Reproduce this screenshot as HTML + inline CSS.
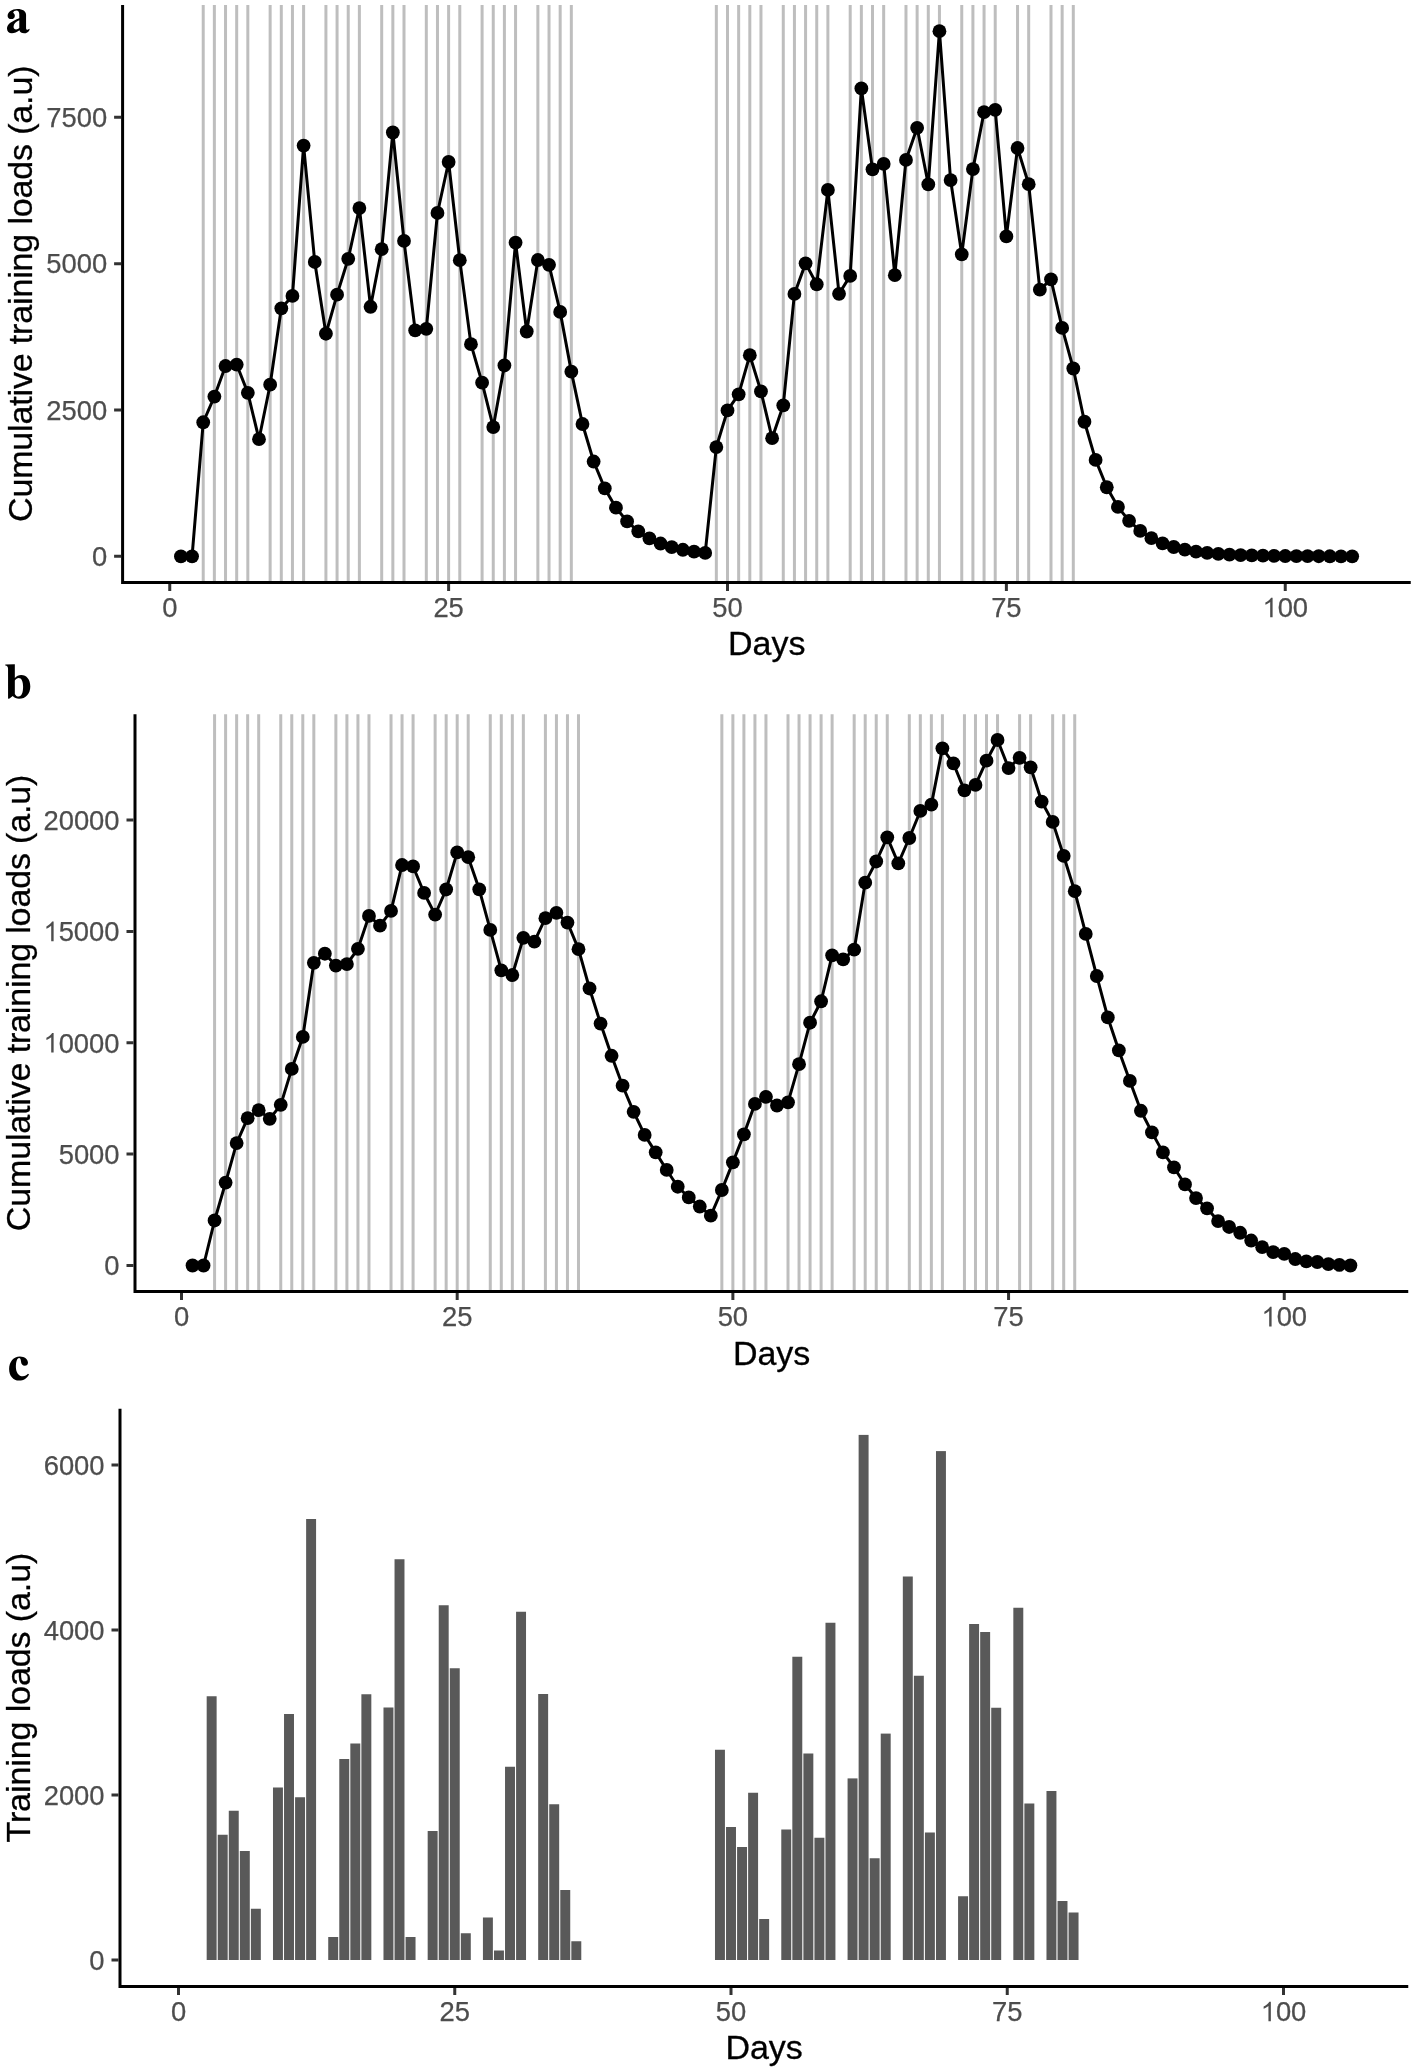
<!DOCTYPE html>
<html><head><meta charset="utf-8"><title>Training loads</title>
<style>html,body{margin:0;padding:0;background:#fff}svg{display:block;will-change:transform}.ss{font-family:"Liberation Sans",sans-serif}.sf{font-family:"Liberation Serif",serif}</style>
</head><body>
<svg width="1416" height="2070" viewBox="0 0 1416 2070">
<rect width="1416" height="2070" fill="#fff"/>
<g id="panel-a">
<path d="M203.22 5V582.5M214.37 5V582.5M225.53 5V582.5M236.68 5V582.5M247.83 5V582.5M270.14 5V582.5M281.30 5V582.5M292.45 5V582.5M303.61 5V582.5M325.92 5V582.5M337.07 5V582.5M348.23 5V582.5M359.38 5V582.5M381.69 5V582.5M392.85 5V582.5M404.00 5V582.5M426.31 5V582.5M437.47 5V582.5M448.62 5V582.5M459.78 5V582.5M482.09 5V582.5M493.25 5V582.5M504.40 5V582.5M515.56 5V582.5M537.87 5V582.5M549.02 5V582.5M560.17 5V582.5M571.33 5V582.5M716.34 5V582.5M727.50 5V582.5M738.65 5V582.5M749.81 5V582.5M760.96 5V582.5M783.27 5V582.5M794.43 5V582.5M805.58 5V582.5M816.74 5V582.5M827.89 5V582.5M850.20 5V582.5M861.36 5V582.5M872.51 5V582.5M883.67 5V582.5M905.98 5V582.5M917.13 5V582.5M928.29 5V582.5M939.44 5V582.5M961.75 5V582.5M972.91 5V582.5M984.06 5V582.5M995.22 5V582.5M1017.53 5V582.5M1028.68 5V582.5M1050.99 5V582.5M1062.15 5V582.5M1073.30 5V582.5" stroke="#bebebe" stroke-width="3.0" fill="none"/>
<polyline points="180.91,556.35 192.06,556.35 203.22,422.27 214.37,396.60 225.53,366.01 236.68,364.55 247.83,392.87 258.99,439.21 270.14,384.72 281.30,308.31 292.45,295.89 303.61,145.53 314.76,261.98 325.92,333.73 337.07,294.66 348.23,258.78 359.38,208.03 370.54,306.77 381.69,249.15 392.85,132.50 404.00,240.96 415.16,330.36 426.31,328.84 437.47,212.99 448.62,162.00 459.78,260.19 470.94,344.14 482.09,382.69 493.25,427.09 504.40,365.49 515.56,242.55 526.71,331.50 537.87,260.01 549.02,264.84 560.17,311.88 571.33,371.65 582.48,424.01 593.64,461.52 604.79,488.40 615.95,507.66 627.11,521.46 638.26,531.35 649.41,538.44 660.57,543.52 671.72,547.15 682.88,549.76 694.03,551.63 705.19,552.97 716.34,447.04 727.50,410.41 738.65,394.34 749.81,355.24 760.96,391.40 772.12,438.16 783.27,405.32 794.43,293.97 805.58,263.37 816.74,284.27 827.89,189.95 839.05,293.81 850.20,275.91 861.36,88.46 872.51,169.37 883.67,163.97 894.82,275.20 905.98,159.93 917.13,127.80 928.29,184.46 939.44,31.17 950.60,180.04 961.75,254.31 972.91,169.11 984.06,112.14 995.22,109.82 1006.38,236.40 1017.53,148.02 1028.68,184.21 1039.84,289.70 1050.99,279.37 1062.15,327.89 1073.30,368.50 1084.46,421.75 1095.61,459.91 1106.77,487.25 1117.92,506.83 1129.08,520.87 1140.23,530.93 1151.39,538.13 1162.55,543.30 1173.70,547.00 1184.86,549.65 1196.01,551.55 1207.16,552.91 1218.32,553.88 1229.47,554.58 1240.63,555.08 1251.78,555.44 1262.94,555.70 1274.10,555.88 1285.25,556.02 1296.40,556.11 1307.56,556.18 1318.71,556.23 1329.87,556.26 1341.02,556.29 1352.18,556.30" fill="none" stroke="#000" stroke-width="3.0" stroke-linejoin="round"/>
<g fill="#000"><circle cx="180.91" cy="556.35" r="6.9"/><circle cx="192.06" cy="556.35" r="6.9"/><circle cx="203.22" cy="422.27" r="6.9"/><circle cx="214.37" cy="396.60" r="6.9"/><circle cx="225.53" cy="366.01" r="6.9"/><circle cx="236.68" cy="364.55" r="6.9"/><circle cx="247.83" cy="392.87" r="6.9"/><circle cx="258.99" cy="439.21" r="6.9"/><circle cx="270.14" cy="384.72" r="6.9"/><circle cx="281.30" cy="308.31" r="6.9"/><circle cx="292.45" cy="295.89" r="6.9"/><circle cx="303.61" cy="145.53" r="6.9"/><circle cx="314.76" cy="261.98" r="6.9"/><circle cx="325.92" cy="333.73" r="6.9"/><circle cx="337.07" cy="294.66" r="6.9"/><circle cx="348.23" cy="258.78" r="6.9"/><circle cx="359.38" cy="208.03" r="6.9"/><circle cx="370.54" cy="306.77" r="6.9"/><circle cx="381.69" cy="249.15" r="6.9"/><circle cx="392.85" cy="132.50" r="6.9"/><circle cx="404.00" cy="240.96" r="6.9"/><circle cx="415.16" cy="330.36" r="6.9"/><circle cx="426.31" cy="328.84" r="6.9"/><circle cx="437.47" cy="212.99" r="6.9"/><circle cx="448.62" cy="162.00" r="6.9"/><circle cx="459.78" cy="260.19" r="6.9"/><circle cx="470.94" cy="344.14" r="6.9"/><circle cx="482.09" cy="382.69" r="6.9"/><circle cx="493.25" cy="427.09" r="6.9"/><circle cx="504.40" cy="365.49" r="6.9"/><circle cx="515.56" cy="242.55" r="6.9"/><circle cx="526.71" cy="331.50" r="6.9"/><circle cx="537.87" cy="260.01" r="6.9"/><circle cx="549.02" cy="264.84" r="6.9"/><circle cx="560.17" cy="311.88" r="6.9"/><circle cx="571.33" cy="371.65" r="6.9"/><circle cx="582.48" cy="424.01" r="6.9"/><circle cx="593.64" cy="461.52" r="6.9"/><circle cx="604.79" cy="488.40" r="6.9"/><circle cx="615.95" cy="507.66" r="6.9"/><circle cx="627.11" cy="521.46" r="6.9"/><circle cx="638.26" cy="531.35" r="6.9"/><circle cx="649.41" cy="538.44" r="6.9"/><circle cx="660.57" cy="543.52" r="6.9"/><circle cx="671.72" cy="547.15" r="6.9"/><circle cx="682.88" cy="549.76" r="6.9"/><circle cx="694.03" cy="551.63" r="6.9"/><circle cx="705.19" cy="552.97" r="6.9"/><circle cx="716.34" cy="447.04" r="6.9"/><circle cx="727.50" cy="410.41" r="6.9"/><circle cx="738.65" cy="394.34" r="6.9"/><circle cx="749.81" cy="355.24" r="6.9"/><circle cx="760.96" cy="391.40" r="6.9"/><circle cx="772.12" cy="438.16" r="6.9"/><circle cx="783.27" cy="405.32" r="6.9"/><circle cx="794.43" cy="293.97" r="6.9"/><circle cx="805.58" cy="263.37" r="6.9"/><circle cx="816.74" cy="284.27" r="6.9"/><circle cx="827.89" cy="189.95" r="6.9"/><circle cx="839.05" cy="293.81" r="6.9"/><circle cx="850.20" cy="275.91" r="6.9"/><circle cx="861.36" cy="88.46" r="6.9"/><circle cx="872.51" cy="169.37" r="6.9"/><circle cx="883.67" cy="163.97" r="6.9"/><circle cx="894.82" cy="275.20" r="6.9"/><circle cx="905.98" cy="159.93" r="6.9"/><circle cx="917.13" cy="127.80" r="6.9"/><circle cx="928.29" cy="184.46" r="6.9"/><circle cx="939.44" cy="31.17" r="6.9"/><circle cx="950.60" cy="180.04" r="6.9"/><circle cx="961.75" cy="254.31" r="6.9"/><circle cx="972.91" cy="169.11" r="6.9"/><circle cx="984.06" cy="112.14" r="6.9"/><circle cx="995.22" cy="109.82" r="6.9"/><circle cx="1006.38" cy="236.40" r="6.9"/><circle cx="1017.53" cy="148.02" r="6.9"/><circle cx="1028.68" cy="184.21" r="6.9"/><circle cx="1039.84" cy="289.70" r="6.9"/><circle cx="1050.99" cy="279.37" r="6.9"/><circle cx="1062.15" cy="327.89" r="6.9"/><circle cx="1073.30" cy="368.50" r="6.9"/><circle cx="1084.46" cy="421.75" r="6.9"/><circle cx="1095.61" cy="459.91" r="6.9"/><circle cx="1106.77" cy="487.25" r="6.9"/><circle cx="1117.92" cy="506.83" r="6.9"/><circle cx="1129.08" cy="520.87" r="6.9"/><circle cx="1140.23" cy="530.93" r="6.9"/><circle cx="1151.39" cy="538.13" r="6.9"/><circle cx="1162.55" cy="543.30" r="6.9"/><circle cx="1173.70" cy="547.00" r="6.9"/><circle cx="1184.86" cy="549.65" r="6.9"/><circle cx="1196.01" cy="551.55" r="6.9"/><circle cx="1207.16" cy="552.91" r="6.9"/><circle cx="1218.32" cy="553.88" r="6.9"/><circle cx="1229.47" cy="554.58" r="6.9"/><circle cx="1240.63" cy="555.08" r="6.9"/><circle cx="1251.78" cy="555.44" r="6.9"/><circle cx="1262.94" cy="555.70" r="6.9"/><circle cx="1274.10" cy="555.88" r="6.9"/><circle cx="1285.25" cy="556.02" r="6.9"/><circle cx="1296.40" cy="556.11" r="6.9"/><circle cx="1307.56" cy="556.18" r="6.9"/><circle cx="1318.71" cy="556.23" r="6.9"/><circle cx="1329.87" cy="556.26" r="6.9"/><circle cx="1341.02" cy="556.29" r="6.9"/><circle cx="1352.18" cy="556.30" r="6.9"/></g>
<path d="M122.6 5V582.5M121.1 582.5H1410.75" stroke="#000" stroke-width="3.0" fill="none"/>
<path d="M114.10 556.35H121.10M114.10 410.02H121.10M114.10 263.69H121.10M114.10 117.35H121.10M169.75 584.00V591.00M448.62 584.00V591.00M727.50 584.00V591.00M1006.38 584.00V591.00M1285.25 584.00V591.00" stroke="#333" stroke-width="3.0" fill="none"/>
<g class="ss" font-size="27.4" fill="#4d4d4d" stroke="#4d4d4d" stroke-width="0.25">
<text x="107.20" y="566.15" text-anchor="end">0</text>
<text x="107.20" y="419.82" text-anchor="end">2500</text>
<text x="107.20" y="273.49" text-anchor="end">5000</text>
<text x="107.20" y="127.15" text-anchor="end">7500</text>
<text x="169.75" y="617.30" text-anchor="middle">0</text>
<text x="448.62" y="617.30" text-anchor="middle">25</text>
<text x="727.50" y="617.30" text-anchor="middle">50</text>
<text x="1006.38" y="617.30" text-anchor="middle">75</text>
<path transform="translate(1262.39,617.30) scale(0.01338,-0.01338)" d="M763 0H583V1147Q518 1085 412.5 1023Q307 961 223 930V1104Q374 1175 487 1276Q600 1377 647 1466H763Z"/><text x="1277.63" y="617.30" text-anchor="start">00</text>
</g>
<g class="ss" font-size="34" fill="#000" stroke="#000" stroke-width="0.3">
<text x="766.67" y="655.40" text-anchor="middle">Days</text>
<text transform="translate(32.1,293.75) rotate(-90)" text-anchor="middle" textLength="456.5" lengthAdjust="spacing">Cumulative training loads (a.u)</text>
</g>
<path transform="translate(0,0) scale(0.042373)" fill="#000" fill-rule="evenodd" d="M615 350L615 660C615 700 640 715 665 695L690 680L700 700C670 760 620 785 570 785C510 785 470 760 458 715C400 765 340 785 280 785C210 785 165 740 165 670C165 570 280 500 455 430L455 340C455 280 430 250 390 250C350 250 320 270 310 300C340 320 350 350 350 375C350 420 315 450 265 450C215 450 180 420 180 375C180 290 280 215 410 215C540 215 615 270 615 350ZM455 480C370 520 320 570 320 630C320 670 345 695 380 695C410 695 435 680 455 660Z"/>
</g>
<g id="panel-b">
<path d="M214.58 714.25V1291.6M225.61 714.25V1291.6M236.64 714.25V1291.6M247.66 714.25V1291.6M258.69 714.25V1291.6M280.75 714.25V1291.6M291.77 714.25V1291.6M302.80 714.25V1291.6M313.83 714.25V1291.6M335.88 714.25V1291.6M346.91 714.25V1291.6M357.94 714.25V1291.6M368.97 714.25V1291.6M391.02 714.25V1291.6M402.05 714.25V1291.6M413.08 714.25V1291.6M435.13 714.25V1291.6M446.16 714.25V1291.6M457.19 714.25V1291.6M468.21 714.25V1291.6M490.27 714.25V1291.6M501.30 714.25V1291.6M512.33 714.25V1291.6M523.35 714.25V1291.6M545.41 714.25V1291.6M556.43 714.25V1291.6M567.46 714.25V1291.6M578.49 714.25V1291.6M721.85 714.25V1291.6M732.88 714.25V1291.6M743.90 714.25V1291.6M754.93 714.25V1291.6M765.96 714.25V1291.6M788.01 714.25V1291.6M799.04 714.25V1291.6M810.07 714.25V1291.6M821.10 714.25V1291.6M832.12 714.25V1291.6M854.18 714.25V1291.6M865.21 714.25V1291.6M876.23 714.25V1291.6M887.26 714.25V1291.6M909.31 714.25V1291.6M920.34 714.25V1291.6M931.37 714.25V1291.6M942.40 714.25V1291.6M964.45 714.25V1291.6M975.48 714.25V1291.6M986.51 714.25V1291.6M997.53 714.25V1291.6M1019.59 714.25V1291.6M1030.62 714.25V1291.6M1052.67 714.25V1291.6M1063.70 714.25V1291.6M1074.73 714.25V1291.6" stroke="#bebebe" stroke-width="3.0" fill="none"/>
<polyline points="192.53,1265.50 203.56,1265.50 214.58,1220.49 225.61,1182.55 236.64,1143.12 247.66,1118.19 258.69,1110.18 269.72,1118.83 280.75,1104.87 291.77,1068.92 302.80,1036.93 313.83,962.84 324.86,953.74 335.88,965.53 346.91,964.05 357.94,948.79 368.97,915.93 380.00,925.67 391.02,910.89 402.05,865.02 413.08,866.46 424.11,892.96 435.13,914.62 446.16,889.48 457.19,852.42 468.21,857.18 479.24,889.31 490.27,929.95 501.30,970.32 512.33,975.02 523.35,937.82 534.38,941.60 545.41,918.20 556.43,912.79 567.46,922.55 578.49,949.13 589.52,988.49 600.55,1023.53 611.57,1055.76 622.60,1085.71 633.63,1111.83 644.65,1134.97 655.68,1152.35 666.71,1169.96 677.74,1186.73 688.76,1197.45 699.79,1206.51 710.82,1215.66 721.85,1190.00 732.88,1162.32 743.90,1134.28 754.93,1103.88 765.96,1096.86 776.99,1105.52 788.01,1102.32 799.04,1064.17 810.07,1022.73 821.10,1001.26 832.12,955.28 843.15,959.42 854.18,949.66 865.21,882.63 876.23,861.49 887.26,837.37 898.29,863.37 909.31,838.00 920.34,810.97 931.37,804.63 942.40,748.36 953.42,763.47 964.45,790.36 975.48,784.89 986.51,760.70 997.53,739.98 1008.56,768.03 1019.59,757.79 1030.62,767.29 1041.64,801.56 1052.67,821.90 1063.70,855.93 1074.73,891.20 1085.76,933.89 1096.78,976.01 1107.81,1017.40 1118.84,1050.43 1129.87,1080.89 1140.89,1110.77 1151.92,1132.40 1162.95,1152.40 1173.97,1167.46 1185.00,1184.38 1196.03,1198.05 1207.06,1208.32 1218.09,1221.07 1229.11,1226.99 1240.14,1232.76 1251.17,1240.51 1262.19,1247.15 1273.22,1252.14 1284.25,1253.92 1295.28,1259.02 1306.31,1261.46 1317.33,1262.00 1328.36,1264.17 1339.39,1264.95 1350.41,1265.50" fill="none" stroke="#000" stroke-width="3.0" stroke-linejoin="round"/>
<g fill="#000"><circle cx="192.53" cy="1265.50" r="6.9"/><circle cx="203.56" cy="1265.50" r="6.9"/><circle cx="214.58" cy="1220.49" r="6.9"/><circle cx="225.61" cy="1182.55" r="6.9"/><circle cx="236.64" cy="1143.12" r="6.9"/><circle cx="247.66" cy="1118.19" r="6.9"/><circle cx="258.69" cy="1110.18" r="6.9"/><circle cx="269.72" cy="1118.83" r="6.9"/><circle cx="280.75" cy="1104.87" r="6.9"/><circle cx="291.77" cy="1068.92" r="6.9"/><circle cx="302.80" cy="1036.93" r="6.9"/><circle cx="313.83" cy="962.84" r="6.9"/><circle cx="324.86" cy="953.74" r="6.9"/><circle cx="335.88" cy="965.53" r="6.9"/><circle cx="346.91" cy="964.05" r="6.9"/><circle cx="357.94" cy="948.79" r="6.9"/><circle cx="368.97" cy="915.93" r="6.9"/><circle cx="380.00" cy="925.67" r="6.9"/><circle cx="391.02" cy="910.89" r="6.9"/><circle cx="402.05" cy="865.02" r="6.9"/><circle cx="413.08" cy="866.46" r="6.9"/><circle cx="424.11" cy="892.96" r="6.9"/><circle cx="435.13" cy="914.62" r="6.9"/><circle cx="446.16" cy="889.48" r="6.9"/><circle cx="457.19" cy="852.42" r="6.9"/><circle cx="468.21" cy="857.18" r="6.9"/><circle cx="479.24" cy="889.31" r="6.9"/><circle cx="490.27" cy="929.95" r="6.9"/><circle cx="501.30" cy="970.32" r="6.9"/><circle cx="512.33" cy="975.02" r="6.9"/><circle cx="523.35" cy="937.82" r="6.9"/><circle cx="534.38" cy="941.60" r="6.9"/><circle cx="545.41" cy="918.20" r="6.9"/><circle cx="556.43" cy="912.79" r="6.9"/><circle cx="567.46" cy="922.55" r="6.9"/><circle cx="578.49" cy="949.13" r="6.9"/><circle cx="589.52" cy="988.49" r="6.9"/><circle cx="600.55" cy="1023.53" r="6.9"/><circle cx="611.57" cy="1055.76" r="6.9"/><circle cx="622.60" cy="1085.71" r="6.9"/><circle cx="633.63" cy="1111.83" r="6.9"/><circle cx="644.65" cy="1134.97" r="6.9"/><circle cx="655.68" cy="1152.35" r="6.9"/><circle cx="666.71" cy="1169.96" r="6.9"/><circle cx="677.74" cy="1186.73" r="6.9"/><circle cx="688.76" cy="1197.45" r="6.9"/><circle cx="699.79" cy="1206.51" r="6.9"/><circle cx="710.82" cy="1215.66" r="6.9"/><circle cx="721.85" cy="1190.00" r="6.9"/><circle cx="732.88" cy="1162.32" r="6.9"/><circle cx="743.90" cy="1134.28" r="6.9"/><circle cx="754.93" cy="1103.88" r="6.9"/><circle cx="765.96" cy="1096.86" r="6.9"/><circle cx="776.99" cy="1105.52" r="6.9"/><circle cx="788.01" cy="1102.32" r="6.9"/><circle cx="799.04" cy="1064.17" r="6.9"/><circle cx="810.07" cy="1022.73" r="6.9"/><circle cx="821.10" cy="1001.26" r="6.9"/><circle cx="832.12" cy="955.28" r="6.9"/><circle cx="843.15" cy="959.42" r="6.9"/><circle cx="854.18" cy="949.66" r="6.9"/><circle cx="865.21" cy="882.63" r="6.9"/><circle cx="876.23" cy="861.49" r="6.9"/><circle cx="887.26" cy="837.37" r="6.9"/><circle cx="898.29" cy="863.37" r="6.9"/><circle cx="909.31" cy="838.00" r="6.9"/><circle cx="920.34" cy="810.97" r="6.9"/><circle cx="931.37" cy="804.63" r="6.9"/><circle cx="942.40" cy="748.36" r="6.9"/><circle cx="953.42" cy="763.47" r="6.9"/><circle cx="964.45" cy="790.36" r="6.9"/><circle cx="975.48" cy="784.89" r="6.9"/><circle cx="986.51" cy="760.70" r="6.9"/><circle cx="997.53" cy="739.98" r="6.9"/><circle cx="1008.56" cy="768.03" r="6.9"/><circle cx="1019.59" cy="757.79" r="6.9"/><circle cx="1030.62" cy="767.29" r="6.9"/><circle cx="1041.64" cy="801.56" r="6.9"/><circle cx="1052.67" cy="821.90" r="6.9"/><circle cx="1063.70" cy="855.93" r="6.9"/><circle cx="1074.73" cy="891.20" r="6.9"/><circle cx="1085.76" cy="933.89" r="6.9"/><circle cx="1096.78" cy="976.01" r="6.9"/><circle cx="1107.81" cy="1017.40" r="6.9"/><circle cx="1118.84" cy="1050.43" r="6.9"/><circle cx="1129.87" cy="1080.89" r="6.9"/><circle cx="1140.89" cy="1110.77" r="6.9"/><circle cx="1151.92" cy="1132.40" r="6.9"/><circle cx="1162.95" cy="1152.40" r="6.9"/><circle cx="1173.97" cy="1167.46" r="6.9"/><circle cx="1185.00" cy="1184.38" r="6.9"/><circle cx="1196.03" cy="1198.05" r="6.9"/><circle cx="1207.06" cy="1208.32" r="6.9"/><circle cx="1218.09" cy="1221.07" r="6.9"/><circle cx="1229.11" cy="1226.99" r="6.9"/><circle cx="1240.14" cy="1232.76" r="6.9"/><circle cx="1251.17" cy="1240.51" r="6.9"/><circle cx="1262.19" cy="1247.15" r="6.9"/><circle cx="1273.22" cy="1252.14" r="6.9"/><circle cx="1284.25" cy="1253.92" r="6.9"/><circle cx="1295.28" cy="1259.02" r="6.9"/><circle cx="1306.31" cy="1261.46" r="6.9"/><circle cx="1317.33" cy="1262.00" r="6.9"/><circle cx="1328.36" cy="1264.17" r="6.9"/><circle cx="1339.39" cy="1264.95" r="6.9"/><circle cx="1350.41" cy="1265.50" r="6.9"/></g>
<path d="M135 714.25V1291.6M133.5 1291.6H1408.25" stroke="#000" stroke-width="3.0" fill="none"/>
<path d="M126.50 1265.50H133.50M126.50 1154.12H133.50M126.50 1042.75H133.50M126.50 931.38H133.50M126.50 820.00H133.50M181.50 1293.10V1300.10M457.19 1293.10V1300.10M732.88 1293.10V1300.10M1008.56 1293.10V1300.10M1284.25 1293.10V1300.10" stroke="#333" stroke-width="3.0" fill="none"/>
<g class="ss" font-size="27.4" fill="#4d4d4d" stroke="#4d4d4d" stroke-width="0.25">
<text x="119.60" y="1275.30" text-anchor="end">0</text>
<text x="119.60" y="1163.92" text-anchor="end">5000</text>
<path transform="translate(43.41,1052.55) scale(0.01338,-0.01338)" d="M763 0H583V1147Q518 1085 412.5 1023Q307 961 223 930V1104Q374 1175 487 1276Q600 1377 647 1466H763Z"/><text x="58.65" y="1052.55" text-anchor="start">0000</text>
<path transform="translate(43.41,941.17) scale(0.01338,-0.01338)" d="M763 0H583V1147Q518 1085 412.5 1023Q307 961 223 930V1104Q374 1175 487 1276Q600 1377 647 1466H763Z"/><text x="58.65" y="941.17" text-anchor="start">5000</text>
<text x="119.60" y="829.80" text-anchor="end">20000</text>
<text x="181.50" y="1326.40" text-anchor="middle">0</text>
<text x="457.19" y="1326.40" text-anchor="middle">25</text>
<text x="732.88" y="1326.40" text-anchor="middle">50</text>
<text x="1008.56" y="1326.40" text-anchor="middle">75</text>
<path transform="translate(1261.39,1326.40) scale(0.01338,-0.01338)" d="M763 0H583V1147Q518 1085 412.5 1023Q307 961 223 930V1104Q374 1175 487 1276Q600 1377 647 1466H763Z"/><text x="1276.63" y="1326.40" text-anchor="start">00</text>
</g>
<g class="ss" font-size="34" fill="#000" stroke="#000" stroke-width="0.3">
<text x="771.62" y="1364.50" text-anchor="middle">Days</text>
<text transform="translate(29.8,1002.92) rotate(-90)" text-anchor="middle" textLength="456.5" lengthAdjust="spacing">Cumulative training loads (a.u)</text>
</g>
<path transform="translate(0,650) scale(0.042373)" fill="#000" fill-rule="evenodd" d="M125 340L350 335L350 660C390 615 440 590 500 590C630 590 715 700 715 860C715 1030 610 1150 450 1150C390 1150 340 1125 300 1085L225 1145L190 1150L190 440C190 400 170 375 125 368ZM350 720C375 680 405 660 440 660C510 660 545 740 545 870C545 1010 510 1100 440 1100C400 1100 370 1080 350 1040Z"/>
</g>
<g id="panel-c">
<g fill="#595959"><rect x="206.68" y="1696.25" width="9.95" height="263.75"/><rect x="217.73" y="1834.75" width="9.95" height="125.25"/><rect x="228.78" y="1810.75" width="9.95" height="149.25"/><rect x="239.83" y="1851.00" width="9.95" height="109.00"/><rect x="250.88" y="1908.75" width="9.95" height="51.25"/><rect x="272.98" y="1787.50" width="9.95" height="172.50"/><rect x="284.03" y="1714.00" width="9.95" height="246.00"/><rect x="295.08" y="1797.25" width="9.95" height="162.75"/><rect x="306.13" y="1519.00" width="9.95" height="441.00"/><rect x="328.23" y="1937.00" width="9.95" height="23.00"/><rect x="339.28" y="1759.00" width="9.95" height="201.00"/><rect x="350.33" y="1743.50" width="9.95" height="216.50"/><rect x="361.38" y="1694.25" width="9.95" height="265.75"/><rect x="383.48" y="1707.50" width="9.95" height="252.50"/><rect x="394.53" y="1559.25" width="9.95" height="400.75"/><rect x="405.58" y="1937.00" width="9.95" height="23.00"/><rect x="427.68" y="1831.00" width="9.95" height="129.00"/><rect x="438.73" y="1605.25" width="9.95" height="354.75"/><rect x="449.78" y="1668.25" width="9.95" height="291.75"/><rect x="460.83" y="1933.25" width="9.95" height="26.75"/><rect x="482.93" y="1917.50" width="9.95" height="42.50"/><rect x="493.98" y="1950.50" width="9.95" height="9.50"/><rect x="505.03" y="1766.75" width="9.95" height="193.25"/><rect x="516.08" y="1611.75" width="9.95" height="348.25"/><rect x="538.18" y="1694.00" width="9.95" height="266.00"/><rect x="549.23" y="1804.25" width="9.95" height="155.75"/><rect x="560.28" y="1890.00" width="9.95" height="70.00"/><rect x="571.33" y="1941.25" width="9.95" height="18.75"/><rect x="714.98" y="1749.75" width="9.95" height="210.25"/><rect x="726.03" y="1827.00" width="9.95" height="133.00"/><rect x="737.08" y="1847.00" width="9.95" height="113.00"/><rect x="748.13" y="1792.75" width="9.95" height="167.25"/><rect x="759.18" y="1919.00" width="9.95" height="41.00"/><rect x="781.28" y="1829.50" width="9.95" height="130.50"/><rect x="792.33" y="1656.75" width="9.95" height="303.25"/><rect x="803.38" y="1753.50" width="9.95" height="206.50"/><rect x="814.43" y="1837.75" width="9.95" height="122.25"/><rect x="825.48" y="1622.75" width="9.95" height="337.25"/><rect x="847.58" y="1778.40" width="9.95" height="181.60"/><rect x="858.63" y="1434.90" width="9.95" height="525.10"/><rect x="869.68" y="1858.25" width="9.95" height="101.75"/><rect x="880.73" y="1733.60" width="9.95" height="226.40"/><rect x="902.83" y="1576.50" width="9.95" height="383.50"/><rect x="913.88" y="1675.75" width="9.95" height="284.25"/><rect x="924.93" y="1832.50" width="9.95" height="127.50"/><rect x="935.98" y="1451.10" width="9.95" height="508.90"/><rect x="958.08" y="1896.25" width="9.95" height="63.75"/><rect x="969.13" y="1624.00" width="9.95" height="336.00"/><rect x="980.18" y="1632.00" width="9.95" height="328.00"/><rect x="991.23" y="1707.75" width="9.95" height="252.25"/><rect x="1013.33" y="1607.75" width="9.95" height="352.25"/><rect x="1024.38" y="1803.50" width="9.95" height="156.50"/><rect x="1046.48" y="1791.00" width="9.95" height="169.00"/><rect x="1057.53" y="1901.00" width="9.95" height="59.00"/><rect x="1068.58" y="1912.50" width="9.95" height="47.50"/></g>
<path d="M120 1408.75V1986.5M118.5 1986.5H1408.25" stroke="#000" stroke-width="3.0" fill="none"/>
<path d="M111.50 1960.00H118.50M111.50 1795.00H118.50M111.50 1630.00H118.50M111.50 1465.00H118.50M178.50 1988.00V1995.00M454.75 1988.00V1995.00M731.00 1988.00V1995.00M1007.25 1988.00V1995.00M1283.50 1988.00V1995.00" stroke="#333" stroke-width="3.0" fill="none"/>
<g class="ss" font-size="27.4" fill="#4d4d4d" stroke="#4d4d4d" stroke-width="0.25">
<text x="104.60" y="1969.80" text-anchor="end">0</text>
<text x="104.60" y="1804.80" text-anchor="end">2000</text>
<text x="104.60" y="1639.80" text-anchor="end">4000</text>
<text x="104.60" y="1474.80" text-anchor="end">6000</text>
<text x="178.50" y="2021.30" text-anchor="middle">0</text>
<text x="454.75" y="2021.30" text-anchor="middle">25</text>
<text x="731.00" y="2021.30" text-anchor="middle">50</text>
<text x="1007.25" y="2021.30" text-anchor="middle">75</text>
<path transform="translate(1260.64,2021.30) scale(0.01338,-0.01338)" d="M763 0H583V1147Q518 1085 412.5 1023Q307 961 223 930V1104Q374 1175 487 1276Q600 1377 647 1466H763Z"/><text x="1275.88" y="2021.30" text-anchor="start">00</text>
</g>
<g class="ss" font-size="34" fill="#000" stroke="#000" stroke-width="0.3">
<text x="764.12" y="2059.40" text-anchor="middle">Days</text>
<text transform="translate(29.9,1697.62) rotate(-90)" text-anchor="middle" textLength="289.8" lengthAdjust="spacing">Training loads (a.u)</text>
</g>
<path transform="translate(0,1335) scale(0.042373)" fill="#000" fill-rule="evenodd" d="M660 650C660 700 630 725 585 725C530 725 500 690 495 620C490 570 475 545 450 545C400 545 375 640 375 760C375 880 440 975 540 975C590 975 630 950 660 915L685 930C640 1020 560 1075 450 1075C310 1075 215 960 215 800C215 630 320 505 470 505C580 505 660 570 660 650Z"/>
</g>
</svg>
</body></html>
